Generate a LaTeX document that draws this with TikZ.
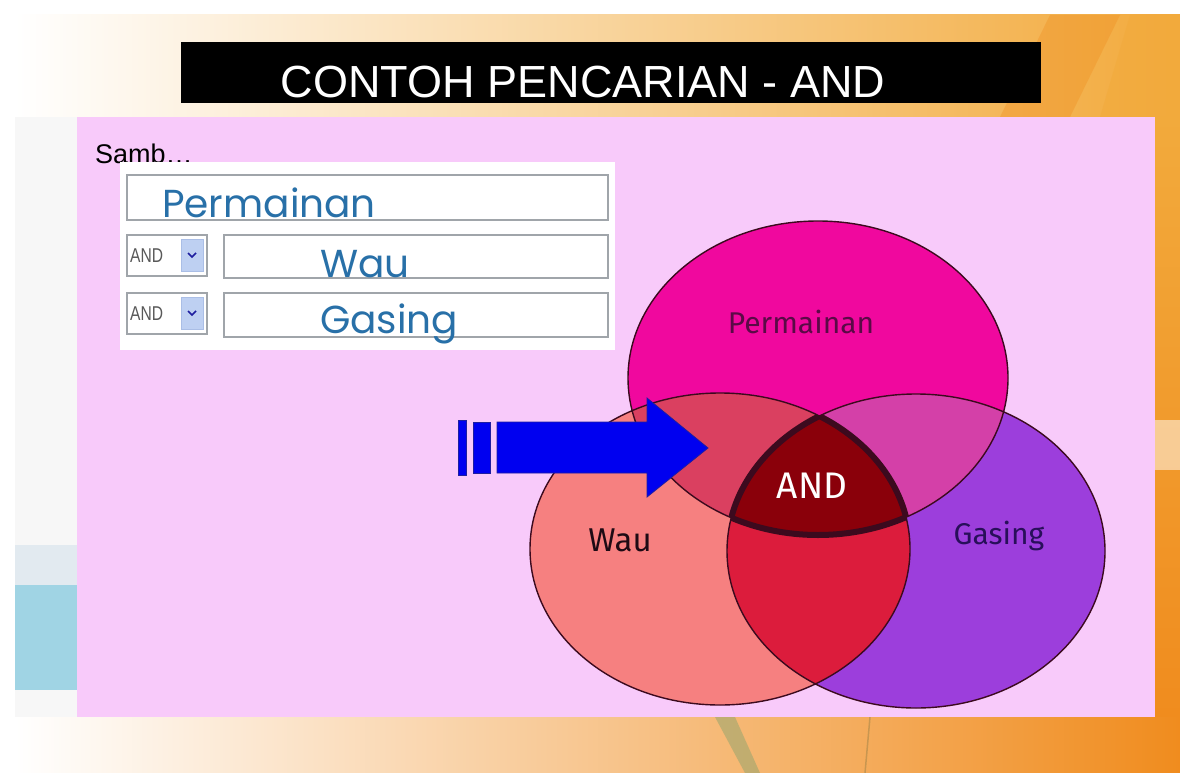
\documentclass[tikz,border=0pt]{standalone}
\usepackage{fontspec}
\usepackage{graphicx}
\setmainfont{Liberation Sans}
\newfontfamily\gothic{Poppins}
\newfontfamily\comic{Fira Sans}
\definecolor{panel}{RGB}{248,202,250}
\definecolor{fieldblue}{RGB}{40,112,168}
\definecolor{fieldline}{RGB}{160,165,170}
\definecolor{cP}{RGB}{240,8,158}
\definecolor{cW}{RGB}{246,128,128}
\definecolor{cG}{RGB}{156,62,220}
\definecolor{cPW}{RGB}{218,64,96}
\definecolor{cPG}{RGB}{212,64,168}
\definecolor{cWG}{RGB}{220,28,60}
\definecolor{cPWG}{RGB}{138,0,10}
\definecolor{vline}{RGB}{60,10,30}
\definecolor{arrowblue}{RGB}{0,0,240}
\definecolor{arrowedge}{RGB}{30,30,160}
\definecolor{bgyellow}{RGB}{250,230,170}
\definecolor{bgorange}{RGB}{242,170,60}
\definecolor{bgdeep}{RGB}{240,140,30}
\definecolor{bgblue}{RGB}{160,212,228}
\definecolor{bgpale}{RGB}{226,234,240}
\definecolor{bgolive}{RGB}{150,165,110}
\definecolor{bgline}{RGB}{200,150,80}
\definecolor{btnfill}{RGB}{190,208,242}
\definecolor{btnline}{RGB}{170,190,230}
\definecolor{labP}{RGB}{90,10,70}
\definecolor{labW}{RGB}{30,10,20}
\definecolor{labG}{RGB}{40,15,90}
\begin{document}
\begin{tikzpicture}[x=1pt,y=-1pt,
  field/.style={draw=fieldline, line width=1.5, fill=white, inner sep=0},
  fieldtext/.style={anchor=base west, inner sep=0, text=fieldblue, font=\gothic\fontsize{39}{40}\selectfont},
  dropbox/.style={draw=fieldline, line width=1.2, fill=white, inner sep=0, minimum width=80, minimum height=41},
  droptext/.style={anchor=west, inner sep=0, text=black!65, font=\fontsize{20}{20}\selectfont},
  dropbtn/.style={fill=btnfill, draw=btnline, inner sep=0, minimum width=22, minimum height=32},
  vennlabel/.style={inner sep=0, font=\comic\fontsize{30}{32}\selectfont},
  venn line/.style={draw=vline, line width=1.4}
]
\useasboundingbox (0,0) rectangle (1180,773);
% background
\fill[white] (0,0) rectangle (1180,773);
\shade[left color=white, middle color=bgyellow, right color=bgorange] (15,15) rectangle (1180,117);
\fill[bgorange, opacity=0.6] (1130,15) -- (1180,15) -- (1180,117) -- (1100,117) -- cycle;
\fill[bgdeep, opacity=0.35] (1000,117) -- (1050,15) -- (1120,15) -- (1070,117) -- cycle;
\fill[white!94!gray] (15,117) rectangle (77,717);
\fill[bgpale] (15,545) rectangle (77,585);
\fill[bgblue] (15,585) rectangle (77,690);
\shade[top color=bgorange, bottom color=bgdeep] (1155,117) rectangle (1180,717);
\fill[white, opacity=0.5] (1155,420) rectangle (1180,470);
\shade[left color=white, middle color=bgyellow, right color=bgdeep] (15,717) rectangle (1180,773);
\fill[bgolive, opacity=0.55] (715,717) -- (735,717) -- (760,773) -- (745,773) -- cycle;
\draw[bgline, line width=1.5] (870,717) -- (865,773);
% title bar
\fill[black] (181,42) rectangle (1041,103);
\node[text=white, inner sep=0, font=\fontsize{45}{50}\selectfont] (title) at (583,82) {CONTOH PENCARIAN - AND};
% panel
\fill[panel] (77,117) rectangle (1155,717);
\node[anchor=base west, inner sep=0, font=\fontsize{27}{28}\selectfont] (samb) at (95,163) {Samb…};
% search form
\node[fill=white, inner sep=0, minimum width=495, minimum height=188] (form) at (367.5,256) {};
\node[field, minimum width=481, minimum height=45] (f1) at (367.5,197.5) {};
\node[fieldtext] (t1) at (162,217) {Permainan};
\node[dropbox] (d2) at (167,255.5) {};
\node[droptext] (a2) at (130,256) {\scalebox{0.78}[1]{AND}};
\node[dropbtn] (b2) at (192,255.5) {};
\draw[arrowedge, line width=1.6] (188,253) -- (192,257) -- (196,253);
\node[field, minimum width=384, minimum height=43] (f2) at (416,256.5) {};
\node[fieldtext] (t2) at (320,277) {Wau};
\node[dropbox] (d3) at (167,313.5) {};
\node[droptext] (a3) at (130,314) {\scalebox{0.78}[1]{AND}};
\node[dropbtn] (b3) at (192,313.5) {};
\draw[arrowedge, line width=1.6] (188,311) -- (192,315) -- (196,311);
\node[field, minimum width=384, minimum height=44] (f3) at (416,315) {};
\node[fieldtext] (t3) at (320,333) {Gasing};
% venn
\def\ellP{(818,378) ellipse [x radius=190, y radius=157]}
\def\ellW{(720,549) ellipse [x radius=190, y radius=156]}
\def\ellG{(916,551) ellipse [x radius=189, y radius=157]}
\fill[cP] \ellP;
\fill[cW] \ellW;
\fill[cG] \ellG;
\begin{scope}\clip \ellP; \fill[cPW] \ellW; \fill[cPG] \ellG;\end{scope}
\begin{scope}\clip \ellW; \fill[cWG] \ellG;\end{scope}
\begin{scope}\clip \ellP; \clip \ellW; \fill[cPWG] \ellG;\end{scope}
\path[venn line] \ellP \ellW \ellG;
\begin{scope}\clip \ellP; \clip \ellW; \draw[vline, line width=6] \ellG;\end{scope}
\begin{scope}\clip \ellP; \clip \ellG; \draw[vline, line width=6] \ellW;\end{scope}
\begin{scope}\clip \ellW; \clip \ellG; \draw[vline, line width=6] \ellP;\end{scope}
\node[vennlabel, text=labP] (lP) at (801,322) {Permainan};
\node[vennlabel, text=labW, font=\comic\fontsize{33}{34}\selectfont] (lW) at (620,540) {Wau};
\node[vennlabel, text=labG] (lG) at (999,536) {Gasing};
\node[vennlabel, text=white, font=\comic\fontsize{37}{38}\selectfont] (lAND) at (812,486) {AND};
% arrow
\fill[arrowblue, draw=arrowedge, line width=1] (458,420) rectangle (466,475);
\fill[arrowblue, draw=arrowedge, line width=1] (473,422) rectangle (490,473);
\fill[arrowblue, draw=arrowedge, line width=0.8] (497,422) -- (647,422) -- (647,398) -- (708,448) -- (647,497) -- (647,473) -- (497,473) -- cycle;
\end{tikzpicture}
\end{document}
